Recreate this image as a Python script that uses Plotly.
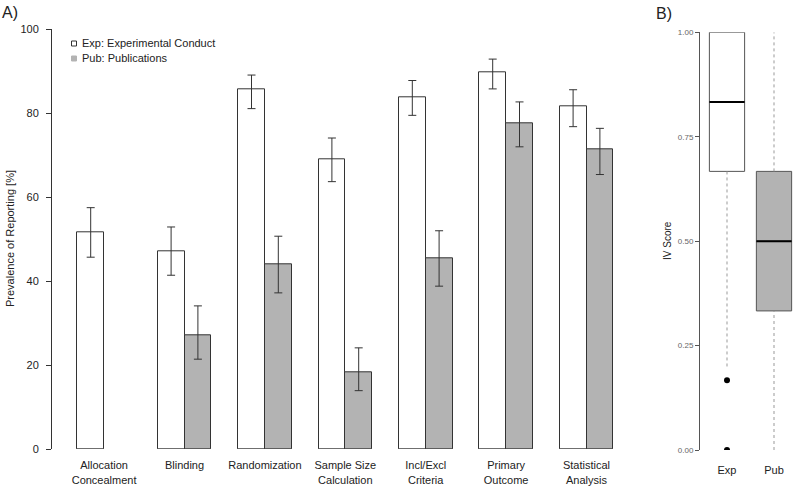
import plotly.graph_objects as go

# ---------------- data ----------------
categories = ["Allocation<br>Concealment", "Blinding", "Randomization",
              "Sample Size<br>Calculation", "Incl/Excl<br>Criteria",
              "Primary<br>Outcome", "Statistical<br>Analysis"]
exp_vals = [51.6, 47.1, 85.6, 69.1, 83.9, 89.8, 81.7]
exp_hi   = [57.5, 52.9, 89.1, 74.1, 87.8, 92.9, 85.6]
exp_lo   = [45.7, 41.4, 81.1, 63.7, 79.5, 85.8, 76.8]
pub_vals = [None, 27.2, 43.9, 18.3, 45.4, 77.7, 71.4]
pub_hi   = [None, 34.1, 50.7, 24.1, 52.0, 82.7, 76.4]
pub_lo   = [None, 21.4, 37.2, 13.9, 38.8, 72.0, 65.4]
y_ticks = [0, 20, 40, 60, 80, 100]

box_groups = ["Exp", "Pub"]
box_q1 = [0.667, 0.333]
box_median = [0.833, 0.5]
box_q3 = [1.0, 0.667]
box_wlo = [0.2, 0.0]
box_whi = [1.0, 1.0]
exp_outliers = [0.1667, 0.0]
iv_ticks = [0, 0.25, 0.5, 0.75, 1.0]
iv_ticktext = ["0.00", "0.25", "0.50", "0.75", "1.00"]

legend_labels = ["Exp: Experimental Conduct", "Pub: Publications"]

# ---------------- styling ----------------
W, H = 793, 486
FONT = "Liberation Sans, Arial, sans-serif"
GRAY = "#b3b3b3"
EDGE = "#333333"

def px_x(p):
    return p / W

def px_y(p):
    return (H - p) / H

n = len(categories)
exp_x = [3 * i + 1.5 for i in range(n)]
pub_x = [3 * i + 2.5 for i in range(n)]
lab_x = [3 * i + 2 for i in range(n)]

def up(v, h):
    return [None if a is None else b - a for a, b in zip(v, h)]

def dn(v, l):
    return [None if a is None else a - b for a, b in zip(v, l)]

fig = go.Figure()

fig.add_trace(go.Bar(
    x=exp_x, y=exp_vals, width=1, name=legend_labels[0], showlegend=False,
    marker=dict(color="white", line=dict(color=EDGE, width=1)),
    error_y=dict(type="data", symmetric=False, array=up(exp_vals, exp_hi),
                 arrayminus=dn(exp_vals, exp_lo), color=EDGE, thickness=1, width=4),
    xaxis="x", yaxis="y"))
fig.add_trace(go.Bar(
    x=pub_x, y=pub_vals, width=1, name=legend_labels[1], showlegend=False,
    marker=dict(color=GRAY, line=dict(color=EDGE, width=1)),
    error_y=dict(type="data", symmetric=False, array=up(pub_vals, pub_hi),
                 arrayminus=dn(pub_vals, pub_lo), color=EDGE, thickness=1, width=4),
    xaxis="x", yaxis="y"))

# ---------------- box plot panel ----------------
box_pos = [1, 2]
box_fill = ["white", GRAY]
BW = 0.75
for i in range(2):
    fig.add_trace(go.Box(
        x=[box_pos[i]], q1=[box_q1[i]], median=[box_median[i]], q3=[box_q3[i]],
        lowerfence=[box_q1[i]], upperfence=[box_q3[i]], width=BW,
        fillcolor=box_fill[i], line=dict(color="#555555", width=1),
        whiskerwidth=0, boxpoints=False, showlegend=False, name=box_groups[i],
        xaxis="x2", yaxis="y2"))
    # median
    fig.add_trace(go.Scatter(
        x=[box_pos[i] - BW / 2, box_pos[i] + BW / 2], y=[box_median[i], box_median[i]],
        mode="lines", line=dict(color="black", width=2), showlegend=False,
        xaxis="x2", yaxis="y2", hoverinfo="skip"))
    # dotted whiskers
    if box_wlo[i] < box_q1[i]:
        fig.add_trace(go.Scatter(
            x=[box_pos[i], box_pos[i]], y=[box_wlo[i], box_q1[i]], mode="lines",
            line=dict(color="#999999", width=1, dash="dot"), showlegend=False,
            xaxis="x2", yaxis="y2", hoverinfo="skip"))
    if box_whi[i] > box_q3[i]:
        fig.add_trace(go.Scatter(
            x=[box_pos[i], box_pos[i]], y=[box_q3[i], box_whi[i]], mode="lines",
            line=dict(color="#999999", width=1, dash="dot"), showlegend=False,
            xaxis="x2", yaxis="y2", hoverinfo="skip"))

fig.add_trace(go.Scatter(
    x=[box_pos[0]] * len(exp_outliers), y=exp_outliers, mode="markers",
    marker=dict(color="black", size=6), showlegend=False,
    xaxis="x2", yaxis="y2"))

# ---------------- layout ----------------
unit = 26.8
x0_px = 77.3  # pixel of x=1
left_dom = (52, 640)
xr = [1 - (x0_px - left_dom[0]) / unit, 1 + (left_dom[1] - x0_px) / unit]

u2 = 47.0
c1 = 727.0
right_dom = (700, 793)
xr2 = [1 - (c1 - right_dom[0]) / u2, 1 + (right_dom[1] - c1) / u2]

TRANSP = "rgba(0,0,0,0)"
fig.update_layout(
    width=W, height=H, margin=dict(l=0, r=0, t=0, b=0, pad=0),
    paper_bgcolor="white", plot_bgcolor="white",
    font=dict(family=FONT, size=11, color="#222222"),
    barmode="overlay", bargap=0, showlegend=False,
    xaxis=dict(domain=[px_x(left_dom[0]), px_x(left_dom[1])], range=xr,
               tickvals=lab_x, ticktext=categories, showline=False,
               ticks="outside", ticklen=6, tickcolor=TRANSP,
               showgrid=False, zeroline=False, anchor="y", automargin=False,
               tickfont=dict(size=11, color="#222222")),
    yaxis=dict(domain=[px_y(449), px_y(29.3)], range=[0, 100], tickvals=y_ticks,
               showline=True, linecolor=EDGE, linewidth=1, ticks="outside",
               ticklen=5, tickcolor=EDGE, showgrid=False, zeroline=False,
               automargin=False, ticklabelstandoff=5,
               tickfont=dict(size=11, color="#222222"), anchor="x"),
    xaxis2=dict(domain=[px_x(right_dom[0]), 1.0], range=xr2, tickvals=box_pos,
                ticktext=box_groups, showline=False, ticks="outside", ticklen=10,
                tickcolor=TRANSP, showgrid=False,
                zeroline=False, anchor="y2", automargin=False,
                tickfont=dict(size=11, color="#222222")),
    yaxis2=dict(domain=[px_y(450), px_y(32.3)], range=[0, 1], tickvals=iv_ticks,
                ticktext=iv_ticktext, showline=True, linecolor="#555555", linewidth=1,
                ticks="outside", ticklen=4, tickcolor="#555555", showgrid=False,
                zeroline=False, automargin=False,
                tickfont=dict(size=8, color="#666666"), anchor="x2"),
)

annotations = [
    dict(text="A)", x=px_x(0), y=px_y(12), xanchor="left", yanchor="middle",
         font=dict(size=16, color="#222222")),
    dict(text="B)", x=px_x(654), y=px_y(14), xanchor="left", yanchor="middle",
         font=dict(size=16, color="#222222")),
    dict(text="Prevalence of Reporting [%]", x=px_x(10), y=px_y(239), textangle=-90,
         xanchor="center", yanchor="middle", font=dict(size=11, color="#222222")),
    dict(text="IV Score", x=px_x(667), y=px_y(241), textangle=-90,
         xanchor="center", yanchor="middle", font=dict(size=10, color="#222222")),
    dict(text=legend_labels[0], x=px_x(80), y=px_y(43.5), xanchor="left",
         yanchor="middle", font=dict(size=11, color="#222222")),
    dict(text=legend_labels[1], x=px_x(80), y=px_y(58.5), xanchor="left",
         yanchor="middle", font=dict(size=11, color="#222222")),
]
for a in annotations:
    a.update(xref="paper", yref="paper", showarrow=False)
fig.update_layout(annotations=annotations)

fig.update_layout(shapes=[
    dict(type="rect", xref="paper", yref="paper", x0=px_x(71.5), x1=px_x(76.5),
         y0=px_y(46), y1=px_y(41), line=dict(color="#333333", width=1), fillcolor="white"),
    dict(type="rect", xref="paper", yref="paper", x0=px_x(71.5), x1=px_x(76.5),
         y0=px_y(61), y1=px_y(56), line=dict(color=GRAY, width=1), fillcolor=GRAY),
])

fig.write_html(
    "out.html",
    config={"displayModeBar": False},
    post_script="document.body.style.margin='0';document.body.style.overflow='hidden';")
